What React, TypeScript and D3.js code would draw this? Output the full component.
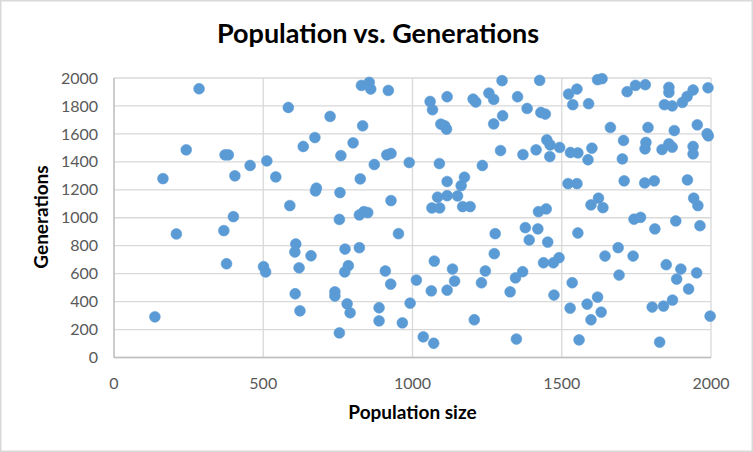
import React from "react";
import * as d3 from "d3";

const populationSize: number[] = [
  285, 584, 673, 634, 242, 372, 383, 456, 512, 164, 405, 542, 675, 678, 589, 400,
  209, 368, 609, 606, 660, 377, 501, 508, 620, 607, 623, 137,
  829, 855, 860, 919, 1059, 1116, 1067, 1203, 1212, 1256, 1272, 1300, 1352, 724,
  833, 1095, 1108, 1114, 1272, 1302, 801, 760, 914, 928, 872, 989, 1090, 1295,
  1234, 825, 757, 928, 1116, 1174, 1163, 1084, 1116, 1151, 1065, 1091, 1168, 1193,
  822, 837, 850, 755,
  953, 1277, 774, 822, 785, 773, 1073, 1274, 909, 927, 1013, 1134, 1141, 1063,
  1116, 1244, 1231, 1345, 1327, 740, 740, 781, 791, 888, 888, 966, 992, 1207,
  755, 1036, 1071, 1348,
  1426, 1384, 1430, 1445, 1523, 1551, 1537, 1590, 1620, 1635, 1719, 1747, 1780,
  1859, 1859, 1940, 1920, 1904, 1844, 1870, 1990, 1663, 1789, 1877, 1954, 1987,
  1991, 1370, 1414, 1450, 1461, 1493, 1460, 1529, 1554, 1601, 1588, 1707, 1703,
  1782, 1779, 1836, 1859, 1870, 1940, 1940, 1521, 1551, 1709, 1778, 1810, 1921,
  1942, 1956, 1422, 1448, 1598, 1623, 1638, 1742, 1764, 1882,
  1378, 1420, 1391, 1453, 1554, 1812, 1963, 1439, 1472, 1491, 1369, 1474, 1645,
  1689, 1739, 1692, 1535, 1528, 1585, 1620, 1632, 1598, 1850, 1899, 1885, 1952,
  1925, 1803, 1841, 1871, 1997, 1558, 1828,
];

const generations: number[] = [
  1923, 1789, 1574, 1510, 1486, 1450, 1450, 1374, 1407, 1280, 1300, 1292, 1192, 1212, 1087, 1008,
  884, 908, 812, 755, 728, 671, 650, 612, 642, 456, 334, 291,
  1947, 1969, 1921, 1911, 1832, 1866, 1773, 1849, 1828, 1892, 1847, 1981, 1866, 1725,
  1658, 1670, 1658, 1634, 1672, 1730, 1536, 1445, 1450, 1460, 1381, 1395, 1388, 1481,
  1374, 1278, 1180, 1123, 1259, 1290, 1230, 1147, 1158, 1156, 1070, 1070, 1080, 1080,
  1020, 1044, 1037, 988,
  886, 886, 776, 786, 657, 612, 690, 743, 619, 525, 554, 633, 547, 477,
  482, 619, 535, 570, 470, 470, 440, 384, 320, 356, 262, 248, 389, 270,
  176, 148, 102, 132,
  1983, 1782, 1753, 1742, 1885, 1921, 1809, 1816, 1988, 1995, 1902, 1947, 1952,
  1933, 1897, 1914, 1868, 1825, 1809, 1800, 1930, 1646, 1646, 1624, 1665, 1601,
  1586, 1452, 1486, 1557, 1521, 1503, 1438, 1467, 1464, 1498, 1415, 1553, 1421,
  1539, 1493, 1488, 1529, 1505, 1510, 1457, 1244, 1244, 1264, 1249, 1264, 1271,
  1140, 1087, 1044, 1063, 1092, 1140, 1072, 990, 1003, 977,
  929, 920, 841, 826, 891, 920, 943, 678, 678, 714, 614, 447, 726,
  786, 726, 590, 535, 353, 382, 432, 325, 270, 664, 633, 561, 606,
  490, 361, 368, 411, 296, 126, 110,
];

const xTicks: number[] = [0, 500, 1000, 1500, 2000];
const yTicks: number[] = [0, 200, 400, 600, 800, 1000, 1200, 1400, 1600, 1800, 2000];

const W = 753;
const H = 452;
const FONT = "Lato, 'Open Sans', sans-serif";

export default function App() {
  const x = d3.scaleLinear().domain([0, 2000]).range([114, 711]);
  const y = d3.scaleLinear().domain([0, 2000]).range([357.5, 78]);
  const points = populationSize.map((p, i) => ({ p, g: generations[i] }));

  return (
    <div style={{ position: "absolute", left: 0, top: 0 }}>
      <svg width={W} height={H} style={{ display: "block", background: "#fff" }}>
        <rect x={0.75} y={0.75} width={W - 1.5} height={H - 1.5} fill="#fff" stroke="#d9d9d9" strokeWidth={1.5} />
        {yTicks.map((t) => (
          <line key={"gy" + t} x1={x(0)} x2={x(2000)} y1={y(t)} y2={y(t)} stroke="#d9d9d9" strokeWidth={1.3} />
        ))}
        {xTicks.map((t) => (
          <line key={"gx" + t} x1={x(t)} x2={x(t)} y1={y(0)} y2={y(2000)} stroke="#d9d9d9" strokeWidth={1.3} />
        ))}
        <line x1={x(0)} x2={x(0)} y1={y(0)} y2={y(2000)} stroke="#bfbfbf" strokeWidth={1.3} />
        <line x1={x(0)} x2={x(2000)} y1={y(0)} y2={y(0)} stroke="#bfbfbf" strokeWidth={1.3} />
        {points.map((d, i) => (
          <circle key={i} cx={x(d.p)} cy={y(d.g)} r={5.4} fill="#5b9bd5" stroke="#5b9bd5" strokeWidth={0.6} />
        ))}
        {yTicks.map((t) => (
          <text key={"ty" + t} x={98} y={y(t)} dy="0.35em" textAnchor="end" fontFamily={FONT} fontSize={16} fill="#595959">
            {t}
          </text>
        ))}
        {xTicks.map((t) => (
          <text key={"tx" + t} x={x(t)} y={383} dy="0.35em" textAnchor="middle" fontFamily={FONT} fontSize={16} fill="#595959">
            {t}
          </text>
        ))}
        <text x={378} y={43} textAnchor="middle" fontFamily={FONT} fontWeight="bold" fontSize={27} fill="#000">
          Population vs. Generations
        </text>
        <text x={412.5} y={412} dy="0.35em" textAnchor="middle" fontFamily={FONT} fontWeight="bold" fontSize={19} fill="#000">
          Population size
        </text>
        <text transform={`translate(41,217) rotate(-90)`} dy="0.35em" textAnchor="middle" fontFamily={FONT} fontWeight="bold" fontSize={19} fill="#000">
          Generations
        </text>
      </svg>
    </div>
  );
}
